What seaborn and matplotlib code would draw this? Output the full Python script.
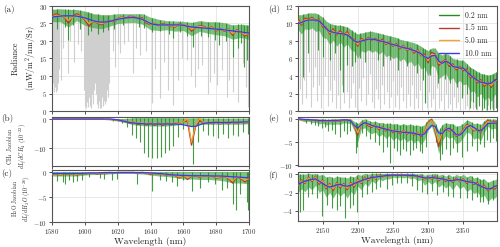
import numpy as np
import matplotlib
matplotlib.use("Agg")
import matplotlib.pyplot as plt
from matplotlib.lines import Line2D
import seaborn as sns

# ---------------- data : left column (1580-1700 nm) ----------------
# 2.5 nm grid series
a_blue = [26.8, 27.0, 27.1, 27.2, 27.2, 27.2, 27.1, 26.9, 26.6,
          26.2, 25.8, 25.5, 25.4, 25.4, 25.6, 25.9, 26.2,
          26.4, 26.6, 26.7, 26.7, 26.5, 26.2, 25.6, 25.0,
          24.7, 24.6, 24.6, 24.6, 24.6, 24.6, 24.6, 24.5,
          24.2, 24.0, 23.9, 23.8, 23.7, 23.6, 23.5, 23.4,
          23.3, 23.2, 23.0, 22.9, 22.7, 22.6, 22.4, 22.3]
a_red = [27.0, 27.8, 27.3, 26.8, 25.0, 27.0, 27.8, 27.2, 26.0,
         24.2, 25.6, 25.2, 24.6, 25.4, 25.8, 25.5, 26.4,
         26.8, 26.5, 27.1, 26.9, 26.4, 26.7, 25.1, 24.7,
         25.0, 24.4, 25.0, 24.6, 24.2, 24.0, 24.8, 24.6,
         24.3, 22.8, 23.9, 24.4, 24.2, 23.6, 24.0, 22.9,
         23.5, 22.8, 23.4, 21.6, 23.2, 22.5, 21.4, 22.2]
a_orange = [26.9, 27.4, 27.2, 26.9, 25.9, 26.8, 27.4, 27.0, 26.3,
            25.0, 25.6, 25.3, 24.9, 25.3, 25.7, 25.7, 26.3,
            26.7, 26.5, 26.9, 26.8, 26.4, 26.5, 25.4, 24.8,
            24.9, 24.5, 24.8, 24.6, 24.3, 24.2, 24.7, 24.6,
            24.3, 23.3, 23.9, 24.2, 24.0, 23.6, 23.8, 23.1,
            23.4, 23.0, 23.3, 22.1, 23.0, 22.5, 21.8, 22.2]
# 5 nm grid: envelope of the 0.2 nm spectrum
a_green_hi = [29.0, 29.2, 29.0, 29.0, 28.5, 27.8, 27.5, 27.5, 27.8, 27.8, 27.8, 27.8, 26.8,
              26.2, 25.8, 25.7, 25.6, 25.3, 25.8, 25.5, 25.5, 25.2, 24.6, 24.8, 24.5]
a_green_lo = [25.5, 25.5, 24.0, 25.8, 24.5, 23.8, 23.5, 24.2, 25.0, 25.2, 25.3, 24.8, 23.2,
              23.0, 23.2, 22.8, 23.0, 21.5, 22.8, 22.2, 21.8, 21.5, 20.5, 21.0, 20.5]
a_green_line_wl = [1583, 1588, 1590, 1593, 1597, 1602, 1604, 1608, 1611, 1614, 1618, 1623, 1633,
                   1636, 1641, 1646, 1651, 1654, 1658, 1662, 1666, 1671, 1675, 1679, 1682,
                   1686, 1690, 1693, 1695, 1697, 1699]
a_green_line_val = [23.5, 24.0, 20.3, 24.5, 23.5, 21.7, 22.8, 22.0, 22.5, 23.0, 23.5, 24.5, 24.0,
                    23.8, 22.5, 22.8, 22.0, 20.8, 22.5, 21.5, 18.4, 21.5, 21.0, 20.3, 18.9,
                    20.0, 15.5, 18.0, 19.5, 12.7, 14.5]
a_grey_wl = [1580.3, 1580.8, 1581.3, 1581.8, 1582.3, 1582.8, 1583.3, 1583.8, 1584.5, 1585.3,
             1587, 1589.5, 1591, 1593.5, 1596, 1597.5,
             1599.5, 1600, 1600.5, 1601, 1601.5, 1602, 1602.5, 1603, 1603.5, 1604, 1604.5,
             1605, 1605.5, 1606.3,
             1607, 1607.5, 1608, 1608.5, 1609, 1609.5, 1610, 1610.5, 1611, 1611.5, 1612,
             1612.5, 1613, 1613.5, 1614.2, 1615,
             1617, 1618.5, 1620, 1621.4, 1624, 1626, 1629.3, 1631, 1633.6, 1637, 1640.9,
             1643, 1645.8, 1648, 1650.6, 1653.7, 1656.7, 1659, 1662.2, 1664.5, 1667.1,
             1669, 1671.4, 1675, 1676.2, 1678.5, 1680.5, 1683.5, 1686.6, 1688, 1690.2,
             1693.3, 1696.3, 1698, 1699.4]
a_grey_val = [6, 8, 5.4, 7, 5.5, 9, 6, 8, 12, 9,
              18, 11, 20, 14, 19, 17,
              6, 1.5, 3, 1.0, 2.5, 1.2, 4, 1.5, 3, 1.0, 5,
              2, 6, 8,
              5, 2, 0.8, 3, 1, 2.5, 0.9, 4, 1.5, 3, 2,
              5, 3, 6, 4, 8,
              17, 12.6, 19, 16.6, 19, 20, 10.9, 18, 16, 17, 2.3,
              12, 3.7, 14, 6, 1.7, 8.9, 15, 14.6, 10, 6.9,
              12, 13, 5, 8.3, 11, 7.4, 11.7, 4, 9, 5.4,
              2.6, 13.7, 7, 1.1]

b_blue = [0, 0, 0, 0, 0, 0, 0, 0, 0,
          0, 0, 0, 0, 0, 0, -0.1, -0.3,
          -0.6, -0.9, -1.2, -1.4, -1.5, -1.6, -1.7, -1.7,
          -1.7, -1.7, -1.7, -1.7, -1.7, -1.7, -1.8, -2.0,
          -2.3, -2.6, -2.5, -2.0, -1.5, -1.3, -1.2, -1.2,
          -1.2, -1.2, -1.2, -1.1, -1.1, -1.1, -1.0, -1.0]
b_red = [0, 0, 0, 0, 0, 0, 0, 0, 0,
         0, 0, 0, 0, -0.1, -0.1, -0.2, -0.4,
         -0.5, -0.9, -1.4, -1.0, -1.9, -1.2, -2.1, -1.3,
         -2.2, -1.4, -2.2, -1.4, -2.0, -1.3, -1.6, -1.0,
         -0.6, -9.0, -2.5, -0.5, -1.5, -1.2, -1.6, -1.0,
         -1.7, -1.1, -1.6, -1.0, -1.6, -1.0, -1.4, -1.0]
b_orange = [0, 0, 0, 0, 0, 0, 0, 0, 0,
            0, 0, 0, 0, -0.1, -0.1, -0.2, -0.4,
            -0.5, -0.8, -1.1, -1.0, -1.5, -1.2, -1.7, -1.3,
            -1.8, -1.4, -1.8, -1.4, -1.7, -1.3, -1.5, -1.0,
            0.2, -8.0, -2.0, 0.2, -1.3, -1.2, -1.4, -1.0,
            -1.5, -1.1, -1.4, -1.0, -1.4, -1.0, -1.3, -1.0]
b_green_hi = [0.1, 0.1, 0.1, 0.1, 0.1, 0.1, 0.1, 0.1, 0.1, 0.2, 0.5, 0.5, 0.5,
              0.5, 0.5, 0.5, 0.4, 0.4, 0.4, 0.3, 0.3, 0.3, 0.3, 0.3, 0.3]
b_green_lo = [-0.1, -0.1, -0.1, -0.1, -0.1, -0.1, -0.1, -0.3, -0.7, -1.3, -2.0, -2.3, -2.4,
              -2.4, -2.4, -2.2, -1.6, -2.5, -1.8, -1.8, -1.8, -1.8, -1.8, -1.8, -1.6]
b_green_line_wl = [1617, 1620, 1622.6, 1625.5, 1628.5, 1631, 1633.6, 1636, 1638.6, 1641.1,
                   1643.8, 1646.2, 1648.8, 1651.3, 1653.9, 1656.9, 1659.5, 1666, 1669.1,
                   1672, 1675.2, 1678.2, 1681.3, 1684.3, 1687.4, 1690.4, 1693.4, 1696.5, 1699.6]
b_green_line_val = [-0.6, -0.8, -1.2, -2.6, -5.5, -6.7, -7.8, -11.6, -13.0, -13.3,
                    -13.3, -13.0, -11.8, -10.7, -9.3, -6.1, -3.5, -15.5, -7.8,
                    -4.0, -5.5, -6.0, -6.7, -5.2, -6.7, -5.5, -6.0, -4.5, -5.0]

c_blue = [-0.3, -0.3, -0.3, -0.3, -0.3, -0.3, -0.3, -0.3, -0.25,
          -0.2, -0.2, -0.2, -0.15, -0.1, -0.1, -0.1, -0.1,
          -0.1, -0.1, -0.1, -0.1, -0.1, -0.1, -0.15, -0.2,
          -0.25, -0.3, -0.35, -0.45, -0.55, -0.6, -0.65, -0.7,
          -0.7, -0.75, -0.75, -0.75, -0.75, -0.75, -0.8, -0.8,
          -0.8, -0.85, -0.9, -0.95, -1.0, -1.05, -1.1, -1.15]
c_red = [-0.5, -0.3, -0.6, -0.3, -0.5, -0.3, -0.6, -0.3, -0.4,
         -0.3, -0.2, -0.4, -0.2, -0.3, -0.1, -0.2, -0.1,
         -0.1, -0.1, -0.1, -0.1, -0.3, -0.1, -0.2, -0.5,
         -0.3, -0.4, -0.5, -0.6, -0.5, -0.7, -1.2, -0.6,
         -1.5, -0.8, -0.7, -1.1, -0.7, -0.9, -0.8, -1.2,
         -1.1, -0.9, -1.3, -2.2, -1.0, -1.3, -2.0, -1.3]
c_orange = [-0.4, -0.3, -0.5, -0.3, -0.4, -0.3, -0.5, -0.3, -0.35,
            -0.25, -0.2, -0.3, -0.2, -0.2, -0.1, -0.15, -0.1,
            -0.1, -0.1, -0.1, -0.1, -0.2, -0.1, -0.2, -0.35,
            -0.3, -0.35, -0.45, -0.55, -0.5, -0.65, -1.0, -0.65,
            -1.2, -0.8, -0.7, -1.0, -0.75, -0.85, -0.8, -1.1,
            -1.0, -0.9, -1.2, -1.8, -1.0, -1.2, -1.7, -1.3]
c_green_hi = [0.1] * 25
c_green_lo = [-0.8, -0.8, -0.8, -0.8, -0.6, -0.5, -0.5, -0.4, -0.3, -0.3, -0.3, -0.4, -0.6,
              -0.8, -0.9, -1.1, -1.4, -1.4, -1.5, -1.5, -1.6, -1.8, -2.2, -2.2, -2.4]
c_green_line_wl = [1583.2, 1586.9, 1587.8, 1590.6, 1593, 1595.4, 1598, 1602.7, 1609.2, 1611.7,
                   1616.4, 1619.4, 1632, 1640.7, 1645.8, 1649.2, 1652.9, 1656, 1660, 1665.1,
                   1670.1, 1675.2, 1679.3, 1683.3, 1686.4, 1690.4, 1691.9, 1694.5, 1698.6, 1699.6]
c_green_line_val = [-1.7, -1.9, -2.4, -1.5, -1.9, -1.7, -1.5, -0.9, -1.1, -1.3,
                    -1.6, -1.3, -2.3, -3.8, -1.5, -1.7, -1.9, -2.7, -1.5, -3.7,
                    -3.1, -1.9, -2.3, -3.6, -3.1, -6.3, -7.6, -4.3, -5.9, -7.6]

# ---------------- data : right column (2115-2400 nm, 5 nm grid) ----------------
d_blue = [10.0, 10.1, 10.3, 10.4, 10.4, 10.4, 10.3, 9.9, 9.4, 9.1, 9.0,
          8.9, 8.85, 8.8, 8.7, 8.4, 8.0, 7.85, 8.0, 8.1, 8.2,
          8.2, 8.15, 8.05, 7.95, 7.85, 7.7, 7.6, 7.5, 7.35, 7.25,
          7.15, 7.05, 6.9, 6.75, 6.55, 6.2, 6.0, 6.3, 6.35, 5.7,
          5.45, 5.7, 5.5, 5.1, 5.0, 4.9, 4.9, 4.5, 4.1, 3.8,
          3.5, 3.3, 3.2, 3.1, 3.2, 3.5, 3.7]
d_red = [10.6, 9.8, 10.6, 10.5, 10.7, 10.3, 10.5, 9.6, 9.6, 8.8, 9.4,
         8.7, 9.2, 8.6, 9.1, 8.3, 8.2, 7.4, 8.3, 8.0, 8.4,
         8.1, 8.3, 7.9, 8.2, 7.6, 7.9, 7.4, 7.7, 7.1, 7.5,
         6.9, 7.2, 6.6, 7.0, 6.3, 6.5, 5.5, 6.7, 6.5, 5.2,
         5.6, 5.9, 5.1, 5.4, 4.7, 5.1, 4.6, 4.8, 3.8, 4.0,
         3.2, 3.6, 2.8, 3.3, 2.7, 3.6, 3.4]
d_orange = [10.3, 9.95, 10.45, 10.45, 10.55, 10.35, 10.4, 9.75, 9.5, 8.95, 9.2,
            8.8, 9.0, 8.7, 8.9, 8.35, 8.1, 7.6, 8.15, 8.05, 8.3,
            8.15, 8.2, 8.0, 8.05, 7.7, 7.8, 7.5, 7.6, 7.2, 7.4,
            7.0, 7.1, 6.75, 6.9, 6.4, 6.35, 5.75, 6.5, 6.4, 5.45,
            5.5, 5.8, 5.3, 5.25, 4.85, 5.0, 4.75, 4.65, 3.95, 3.9,
            3.35, 3.45, 3.0, 3.2, 2.9, 3.5, 3.5]
d_green_hi = [11.0, 11.0, 11.1, 11.2, 11.2, 11.2, 11.0, 10.7, 10.3, 10.0, 9.9,
              9.8, 9.8, 9.7, 9.6, 9.3, 9.0, 8.8, 8.9, 9.0, 9.1,
              9.1, 9.0, 8.9, 8.8, 8.7, 8.6, 8.5, 8.4, 8.2, 8.1,
              8.0, 7.9, 7.8, 7.6, 7.4, 7.1, 6.9, 7.2, 7.2, 6.6,
              6.4, 6.6, 6.4, 6.0, 5.9, 5.8, 5.8, 5.4, 5.0, 4.8,
              4.5, 4.3, 4.2, 4.1, 4.2, 4.4, 4.5]
d_green_lo = [9.3, 8.8, 9.4, 9.3, 9.5, 9.1, 9.2, 8.4, 8.3, 7.6, 8.1,
              7.4, 7.9, 7.3, 7.7, 7.0, 6.8, 6.0, 6.9, 6.7, 7.0,
              6.7, 6.9, 6.5, 6.8, 6.2, 6.4, 6.0, 6.2, 5.7, 6.0,
              5.4, 5.7, 5.1, 5.5, 4.8, 5.0, 4.0, 5.2, 5.0, 3.7,
              4.0, 4.3, 3.5, 3.8, 3.1, 3.5, 3.0, 3.1, 2.2, 2.3,
              1.6, 2.0, 1.2, 1.6, 1.1, 1.9, 1.7]
d_green_line_wl = [2122.6, 2129.7, 2143.9, 2150, 2160.5, 2167.6, 2174.7, 2179, 2184.3, 2191.4,
                   2195.6, 2203.2, 2210.3, 2217.4, 2229.2, 2236.3, 2245.9, 2257.7, 2269.6,
                   2283.8, 2293.2, 2295.6, 2302.8, 2314.6, 2324.1, 2331.2, 2340.7, 2348, 2355,
                   2360, 2364, 2368, 2372, 2376, 2380, 2384, 2388, 2392, 2396]
d_green_line_val = [3.9, 6.6, 7.0, 6.2, 5.8, 6.6, 4.7, 2.2, 5.3, 5.1,
                    5.6, 6.0, 5.6, 7.0, 5.8, 5.1, 5.8, 4.7, 5.1,
                    4.3, 3.5, 0.9, 4.1, 3.2, 3.7, 3.2, 2.8, 1.5, 2.0,
                    0.3, 1.0, 0.2, 0.6, 0.1, 0.4, 0.1, 0.2, 0.1, 0.3]
d_grey_wl = [2118, 2121, 2124, 2127, 2130, 2133, 2136, 2139, 2142, 2145, 2148, 2151, 2154,
             2157, 2160, 2163, 2166, 2169, 2172, 2175, 2178, 2181, 2184, 2187, 2190, 2193,
             2196, 2199, 2202, 2205, 2208, 2211, 2214, 2217, 2220, 2223, 2226, 2229, 2232,
             2235, 2238, 2241, 2244, 2247, 2250, 2253, 2256, 2259, 2262, 2265, 2268, 2271,
             2274, 2277, 2280, 2283, 2286, 2289, 2292, 2295, 2298, 2301, 2304, 2307, 2310,
             2313, 2316, 2319, 2322, 2325, 2328, 2331, 2334, 2337, 2340, 2343, 2346, 2349,
             2352, 2355, 2358, 2361, 2364, 2367, 2370, 2373, 2376, 2379, 2382, 2385, 2388,
             2391, 2394, 2397]
d_grey_val = [2.5, 0.8, 3.5, 1.5, 4.5, 0.5, 2.8, 5.0, 1.2, 3.0, 0.3, 2.0, 4.0,
              0.6, 2.4, 1.0, 3.6, 0.4, 1.8, 0.2, 3.0, 0.9, 2.2, 0.3, 1.5, 3.2,
              0.5, 0.1, 2.6, 1.1, 3.8, 0.7, 2.0, 4.2, 1.0, 0.3, 2.5, 1.4, 0.2,
              3.0, 0.8, 2.2, 0.4, 1.6, 3.4, 0.5, 1.8, 0.2, 2.8, 1.2, 0.3, 2.0,
              0.6, 3.0, 0.2, 1.5, 0.4, 2.4, 0.1, 1.0, 0.3, 2.2, 0.5, 1.4, 0.1,
              2.6, 0.3, 1.2, 0.1, 2.0, 0.4, 0.8, 0.1, 1.6, 0.3, 1.0, 0.1, 1.8,
              0.2, 0.6, 0.1, 1.2, 0.2, 0.5, 0.1, 0.9, 0.1, 0.4, 0.1, 0.7, 0.1,
              0.3, 0.1, 0.5]

e_blue = [0.0, -0.05, -0.1, -0.15, -0.2, -0.25, -0.3, -0.3, -0.35, -0.35, -0.3,
          -0.3, -0.25, -0.2, -0.2, -0.4, -1.4, -2.0, -1.2, -0.8, -1.1,
          -1.4, -1.6, -1.8, -2.0, -2.2, -2.4, -2.6, -2.7, -2.8, -2.9,
          -2.9, -3.0, -3.1, -3.3, -3.5, -3.2, -2.2, -1.4, -1.6, -3.0,
          -3.2, -2.3, -2.0, -2.6, -3.4, -3.5, -2.8, -1.8, -1.4, -1.8,
          -2.4, -2.6, -1.8, -1.0, -0.9, -0.9, -1.0]
e_red = [0.0, -0.1, -0.2, -0.1, -0.3, -0.2, -0.5, -0.3, -0.6, -0.4, -0.5,
         -0.4, -0.5, -0.2, -0.3, -0.3, -1.5, -3.5, -1.0, -0.8, -1.5,
         -1.8, -1.3, -2.3, -1.7, -2.6, -2.0, -3.0, -2.4, -3.2, -2.5,
         -3.3, -2.7, -3.5, -2.9, -3.8, -2.8, -0.8, -0.1, -2.5, -6.0,
         -3.0, -2.0, -2.6, -2.3, -3.8, -3.2, -2.4, -1.2, -1.6, -2.6,
         -2.2, -3.0, -1.2, -0.3, -0.8, -0.5, -1.2]
e_orange = [0.0, -0.08, -0.15, -0.12, -0.25, -0.2, -0.4, -0.3, -0.5, -0.4, -0.4,
            -0.35, -0.4, -0.2, -0.25, -0.3, -1.4, -3.0, -1.0, -0.8, -1.3,
            -1.6, -1.4, -2.1, -1.8, -2.4, -2.1, -2.8, -2.5, -3.0, -2.6,
            -3.1, -2.8, -3.3, -3.0, -3.6, -2.9, -1.0, -0.3, -2.2, -5.0,
            -3.0, -2.1, -2.4, -2.4, -3.6, -3.3, -2.5, -1.4, -1.6, -2.4,
            -2.3, -2.8, -1.4, -0.5, -0.8, -0.7, -1.1]
e_green_hi = [0.1, 0.1, 0.05, 0.05, 0.0, 0.0, -0.1, 0.0, -0.1, -0.05, 0.0,
              0.0, 0.0, 0.1, 0.1, 0.0, -0.5, -1.0, -0.2, 0.0, -0.3,
              -0.6, -0.5, -0.8, -0.8, -1.0, -0.9, -1.1, -1.0, -1.3, -1.0,
              -1.3, -1.1, -1.4, -1.3, -1.6, -1.2, 0.0, 0.2, -0.8, -2.5,
              -1.2, -0.8, -1.0, -1.0, -1.6, -1.4, -0.9, -0.2, -0.5, -1.0,
              -0.9, -1.2, -0.3, 0.1, -0.1, 0.0, -0.3]
e_green_lo = [-0.2, -0.4, -0.6, -0.5, -0.8, -0.7, -1.1, -0.9, -1.3, -1.1, -1.2,
              -1.1, -1.2, -0.8, -0.9, -1.0, -2.6, -5.0, -2.2, -1.9, -2.8,
              -3.2, -2.8, -3.8, -3.3, -4.2, -3.6, -4.6, -4.0, -4.8, -4.1,
              -5.0, -4.4, -5.2, -4.6, -5.5, -4.5, -2.4, -1.6, -4.0, -7.5,
              -4.8, -3.6, -4.2, -3.9, -5.4, -5.0, -4.0, -2.8, -3.2, -4.4,
              -4.0, -4.7, -2.8, -1.6, -2.2, -2.0, -2.8]
e_green_line_wl = [2127, 2133, 2139, 2144, 2149, 2154, 2158, 2163, 2168, 2175, 2180, 2184,
                   2189, 2197, 2199, 2206, 2211, 2217, 2224, 2230, 2236, 2241, 2246, 2252,
                   2256, 2260, 2265, 2269, 2274, 2279, 2283, 2288, 2292, 2297, 2311, 2317,
                   2320, 2326, 2331, 2336, 2341, 2348, 2355, 2362, 2369, 2374, 2379, 2384,
                   2388, 2393, 2397]
e_green_line_val = [-0.9, -1.1, -1.4, -1.5, -2.0, -1.8, -2.7, -2.4, -3.3, -3.9, -2.6, -3.2,
                    -2.5, -7.4, -6.0, -3.0, -3.7, -4.3, -5.0, -5.6, -7.1, -6.0, -9.6, -6.4,
                    -7.0, -7.8, -6.6, -7.0, -7.8, -6.8, -6.3, -6.9, -7.4, -6.0, -5.0, -8.9,
                    -7.5, -6.5, -7.8, -6.4, -7.2, -8.3, -7.0, -5.8, -7.0, -5.5, -6.0, -4.6,
                    -5.0, -4.2, -4.8]

f_blue = [-1.1, -0.9, -0.75, -0.65, -0.55, -0.5, -0.75, -1.0, -1.25, -1.4, -1.3,
          -1.15, -1.1, -1.25, -1.3, -1.2, -1.0, -0.85, -0.7, -0.55, -0.45,
          -0.35, -0.3, -0.25, -0.2, -0.15, -0.1, -0.1, -0.1, -0.1, -0.1,
          -0.1, -0.12, -0.15, -0.2, -0.3, -0.4, -0.4, -0.35, -0.4, -0.45,
          -0.5, -0.6, -0.7, -0.7, -0.6, -0.6, -0.7, -0.8, -0.85, -0.9,
          -1.1, -1.3, -1.45, -1.6, -1.55, -1.3, -1.2]
f_red = [-1.3, -0.6, -1.0, -0.3, -0.8, -0.2, -1.1, -0.6, -1.6, -1.0, -1.8,
         -0.9, -1.5, -1.0, -1.7, -0.9, -1.4, -0.5, -1.0, -0.3, -0.7,
         -0.2, -0.5, -0.1, -0.3, -0.1, -0.2, -0.05, -0.1, -0.05, -0.1,
         -0.05, -0.2, -0.1, -0.3, -0.2, -0.6, -0.3, -0.5, -0.2, -0.7,
         -0.4, -0.8, -0.5, -0.9, -0.4, -0.8, -0.5, -1.0, -0.7, -1.1,
         -0.9, -1.4, -1.2, -1.8, -1.5, -1.6, -1.1]
f_orange = [-1.2, -0.7, -0.9, -0.4, -0.7, -0.3, -0.95, -0.7, -1.45, -1.1, -1.6,
            -1.0, -1.35, -1.1, -1.55, -1.0, -1.25, -0.6, -0.9, -0.4, -0.6,
            -0.3, -0.45, -0.15, -0.3, -0.12, -0.18, -0.08, -0.1, -0.07, -0.1,
            -0.07, -0.18, -0.12, -0.27, -0.25, -0.55, -0.35, -0.45, -0.3, -0.6,
            -0.45, -0.7, -0.6, -0.8, -0.5, -0.75, -0.6, -0.9, -0.75, -1.0,
            -1.0, -1.35, -1.3, -1.7, -1.5, -1.45, -1.15]
f_green_hi = [0.0, 0.0, 0.0, 0.1, 0.0, 0.1, -0.1, 0.0, -0.3, -0.2, -0.4,
              -0.2, -0.3, -0.3, -0.4, -0.2, -0.3, 0.0, -0.1, 0.1, 0.0,
              0.1, 0.1, 0.1, 0.1, 0.1, 0.1, 0.1, 0.1, 0.1, 0.1,
              0.1, 0.1, 0.1, 0.0, 0.1, -0.1, 0.0, 0.0, 0.1, -0.1,
              0.0, -0.2, 0.0, -0.3, 0.0, -0.2, 0.0, -0.3, -0.1, -0.4,
              -0.3, -0.6, -0.5, -0.9, -0.7, -0.6, -0.4]
f_green_lo = [-2.0, -1.6, -1.9, -1.4, -1.7, -1.2, -2.0, -1.7, -2.5, -2.0, -2.6,
              -1.9, -2.4, -2.0, -2.6, -1.9, -2.2, -1.3, -1.7, -1.0, -1.3,
              -0.7, -1.0, -0.5, -0.7, -0.5, -0.5, -0.3, -0.4, -0.3, -0.4,
              -0.3, -0.5, -0.4, -0.7, -0.6, -1.2, -0.8, -1.1, -0.8, -1.4,
              -1.1, -1.5, -1.2, -1.7, -1.1, -1.6, -1.3, -1.9, -1.6, -2.1,
              -1.9, -2.5, -2.3, -3.0, -2.6, -2.6, -2.1]
f_green_line_wl = [2117.8, 2122.6, 2129.7, 2135, 2142, 2148.7, 2155.8, 2162.9, 2170, 2174.7,
                   2181.9, 2189, 2193.7, 2198.5, 2205.6, 2212.7, 2219.8, 2226, 2231.6,
                   2241.2, 2248, 2255.4, 2262, 2269.6, 2277, 2283.8, 2291, 2298.1, 2305,
                   2312.3, 2321.7, 2328, 2336, 2345.4, 2355, 2362, 2369.2, 2374, 2378.6,
                   2385.7, 2392.8, 2397.6]
f_green_line_val = [-4.1, -3.9, -2.5, -2.2, -2.6, -4.6, -3.4, -3.7, -3.9, -3.5,
                    -4.8, -3.7, -3.4, -4.1, -2.5, -2.1, -1.9, -1.6, -1.4,
                    -1.6, -1.2, -1.0, -0.9, -1.0, -1.3, -1.7, -1.9, -2.1, -1.8,
                    -2.3, -1.9, -2.4, -2.5, -2.6, -2.6, -2.8, -2.5, -3.0, -3.0,
                    -3.2, -2.8, -3.0]

legend_labels = ["0.2 nm", "1.5 nm", "5.0 nm", "10.0 nm"]
panel_letters = ["(a)", "(b)", "(c)", "(d)", "(e)", "(f)"]
y_labels = ["Radiance\n(mW/m$^2$/nm/Sr)",
            "CH$_4$ Jacobian\n$dL/dCH_4$ $(10^{-22})$",
            "H$_2$O Jacobian\n$dL/dH_2O$ $(10^{-26})$"]

# ---------------- style ----------------
sns.set_theme(style="whitegrid")
plt.rcParams.update({
    "font.family": "cmr10",
    "mathtext.fontset": "cm",
    "axes.unicode_minus": False,
    "axes.formatter.use_mathtext": True,
    "axes.edgecolor": "#555555",
    "axes.linewidth": 0.8,
    "grid.color": "#e4e4e4",
    "grid.linewidth": 0.6,
    "xtick.bottom": True,
    "ytick.left": True,
    "xtick.major.size": 2,
    "ytick.major.size": 2,
    "xtick.major.width": 0.6,
    "ytick.major.width": 0.6,
    "xtick.color": "#333333",
    "ytick.color": "#333333",
    "xtick.major.pad": 1.5,
    "ytick.major.pad": 1.5,
})

C_GREEN = "#238c23"
C_GREEN_FILL = "#4aa84a"
C_RED = "#b5402a"
C_ORANGE = "#f4a42c"
C_BLUE = "#3a3af0"
C_GREY = "#cfcfcf"

fig = plt.figure(figsize=(5.0, 2.47), dpi=100)
W, H = 500.0, 247.0


def axes_px(x0, x1, y0, y1):
    return fig.add_axes([x0 / W, 1 - y1 / H, (x1 - x0) / W, (y1 - y0) / H])


def draw_panel(ax, x0, x1, blue, red, orange, g_hi, g_lo, gl_wl, gl_val,
               grey_wl=None, grey_val=None):
    grid = np.linspace(x0, x1, len(blue))
    grid_r = np.linspace(x0, x1, len(red))
    grid_o = np.linspace(x0, x1, len(orange))
    grid_g = np.linspace(x0, x1, len(g_hi))
    hi = np.array(g_hi)
    lo = np.array(g_lo)
    if grey_wl is not None:
        ax.vlines(grey_wl, grey_val, np.interp(grey_wl, grid_g, hi),
                  colors=C_GREY, lw=0.8, zorder=1)
    ax.fill_between(grid_g, lo, hi, color=C_GREEN_FILL, alpha=0.7, lw=0, zorder=2)
    ax.vlines(gl_wl, gl_val, np.interp(gl_wl, grid_g, hi),
              colors=C_GREEN, lw=0.8, alpha=0.85, zorder=2)
    sns.lineplot(x=grid_r, y=red, ax=ax, color=C_RED, lw=1.0, zorder=3)
    sns.lineplot(x=grid_o, y=orange, ax=ax, color=C_ORANGE, lw=0.8, zorder=4)
    sns.lineplot(x=grid, y=blue, ax=ax, color=C_BLUE, lw=0.9, zorder=5)


L0, L1 = 52, 249
R0, R1 = 298, 497
ax_a = axes_px(L0, L1, 6, 111)
ax_b = axes_px(L0, L1, 117, 166)
ax_c = axes_px(L0, L1, 170, 222)
ax_d = axes_px(R0, R1, 6, 111)
ax_e = axes_px(R0, R1, 117, 166)
ax_f = axes_px(R0, R1, 172, 221)

draw_panel(ax_a, 1580, 1700, a_blue, a_red, a_orange, a_green_hi, a_green_lo,
           a_green_line_wl, a_green_line_val, a_grey_wl, a_grey_val)
draw_panel(ax_b, 1580, 1700, b_blue, b_red, b_orange, b_green_hi, b_green_lo,
           b_green_line_wl, b_green_line_val)
draw_panel(ax_c, 1580, 1700, c_blue, c_red, c_orange, c_green_hi, c_green_lo,
           c_green_line_wl, c_green_line_val)
draw_panel(ax_d, 2115, 2400, d_blue, d_red, d_orange, d_green_hi, d_green_lo,
           d_green_line_wl, d_green_line_val, d_grey_wl, d_grey_val)
draw_panel(ax_e, 2115, 2400, e_blue, e_red, e_orange, e_green_hi, e_green_lo,
           e_green_line_wl, e_green_line_val)
draw_panel(ax_f, 2115, 2400, f_blue, f_red, f_orange, f_green_hi, f_green_lo,
           f_green_line_wl, f_green_line_val)

ylims = [(0, 30), (-16.2, 0.7), (-10, 0.4), (0, 12), (-10.2, 0.43), (-5.1, 0.25)]
yticks = [[0, 5, 10, 15, 20, 25, 30], [-10, 0], [-10, -5, 0],
          [0, 2, 4, 6, 8, 10, 12], [-10, -5, 0], [-4, -2, 0]]
axes = [ax_a, ax_b, ax_c, ax_d, ax_e, ax_f]
for i, ax in enumerate(axes):
    ax.set_ylim(*ylims[i])
    ax.set_yticks(yticks[i])
    if i < 3:
        ax.set_xlim(1580, 1700)
        ax.set_xticks([1580, 1600, 1620, 1640, 1660, 1680, 1700])
    else:
        ax.set_xlim(2115, 2398)
        ax.set_xticks([2150, 2200, 2250, 2300, 2350])
    ax.tick_params(labelsize=5)
    ax.set_xlabel("")
    ax.set_ylabel("")
    ax.grid(True)
    ax.set_axisbelow(True)
    for s in ax.spines.values():
        s.set_color("#555555")
        s.set_linewidth(0.8)
    if i not in (2, 5):
        ax.tick_params(labelbottom=False)

ax_c.set_xlabel("Wavelength (nm)", fontsize=6.8, labelpad=1.0)
ax_f.set_xlabel("Wavelength (nm)", fontsize=6.8, labelpad=1.0)

ax_a.set_ylabel(y_labels[0], fontsize=6, linespacing=1.3)
ax_a.yaxis.set_label_coords(-0.07, 0.5)
ax_b.set_ylabel(y_labels[1], fontsize=4.2, linespacing=1.25)
ax_b.yaxis.set_label_coords(-0.118, 0.4)
ax_c.set_ylabel(y_labels[2], fontsize=4.2, linespacing=1.25)
ax_c.yaxis.set_label_coords(-0.095, 0.45)

letter_pos = [(3, 10), (1, 118), (1, 174), (268, 10), (268, 118), (268, 176)]
for (px, py), lab in zip(letter_pos, panel_letters):
    fig.text(px / W, 1 - py / H, lab, fontsize=6.5, ha="left", va="center")

handles = [Line2D([], [], color=c, lw=1.0) for c in (C_GREEN, C_RED, C_ORANGE, C_BLUE)]
ax_d.legend(handles, legend_labels, loc="upper right", fontsize=5.5, frameon=False,
            handlelength=2.6, labelspacing=0.55, borderaxespad=0.3, handletextpad=0.8)

fig.savefig("out.png", dpi=100)
